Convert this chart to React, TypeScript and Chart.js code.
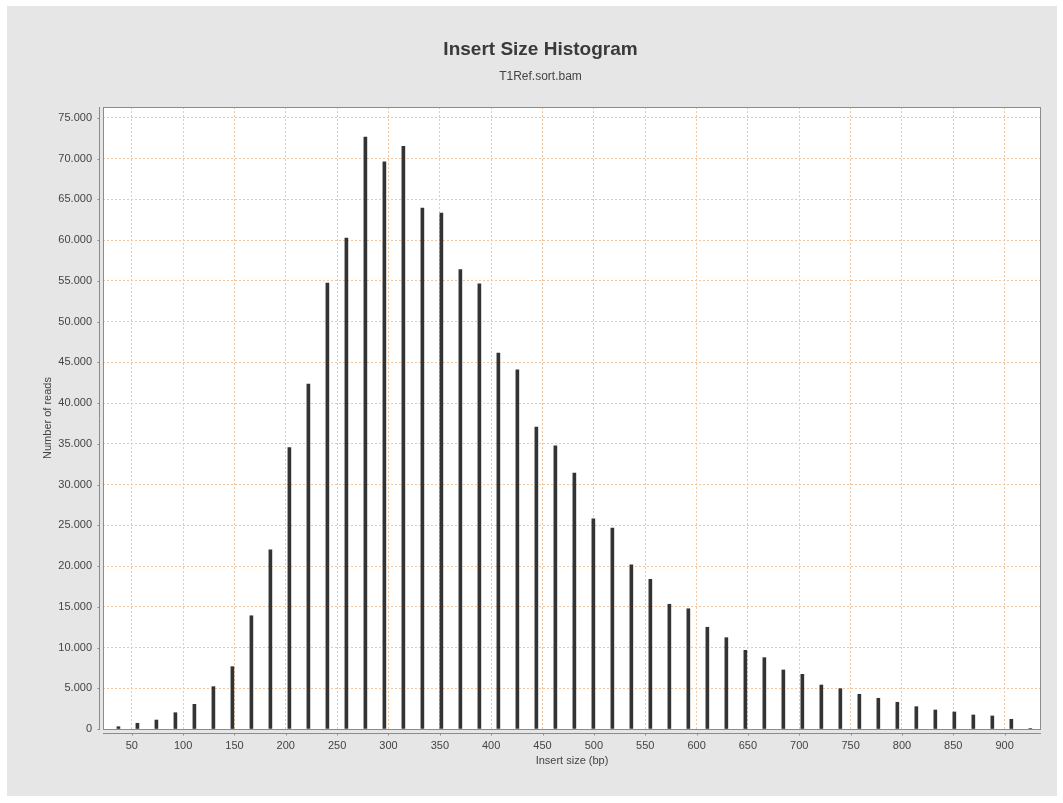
import React, { useEffect, useRef } from 'react';
import { Chart, registerables } from 'chart.js';

Chart.register(...registerables);

// Bin centres of the insert-size histogram (bp)
const BIN_CENTERS = [
  37, 55.5, 74, 92.5, 111, 129.5, 148, 166.5, 185, 203.5,
  222, 240.5, 259, 277.5, 296, 314.5, 333, 351.5, 370, 388.5,
  407, 425.5, 444, 462.5, 481, 499.5, 518, 536.5, 555, 573.5,
  592, 610.5, 629, 647.5, 666, 684.5, 703, 721.5, 740, 758.5,
  777, 795.5, 814, 832.5, 851, 869.5, 888, 906.5, 925,
];

// Number of reads per bin
const READ_COUNTS = [
  280, 700, 1100, 2000, 3030, 5200, 7650, 13900, 22000, 34550,
  42330, 54730, 60260, 72660, 69630, 71510, 63940, 63330, 56400, 54630,
  46140, 44090, 37050, 34750, 31400, 25790, 24650, 20140, 18380, 15310,
  14760, 12490, 11210, 9660, 8760, 7245, 6710, 5400, 4950, 4260,
  3770, 3280, 2740, 2330, 2090, 1720, 1600, 1190, 60,
];

const X_TICKS = [50, 100, 150, 200, 250, 300, 350, 400, 450, 500, 550, 600, 650, 700, 750, 800, 850, 900];
const Y_TICKS = [0, 5000, 10000, 15000, 20000, 25000, 30000, 35000, 40000, 45000, 50000, 55000, 60000, 65000, 70000, 75000];

const TITLE = 'Insert Size Histogram';
const SUBTITLE = 'T1Ref.sort.bam';
const X_LABEL = 'Insert size (bp)';
const Y_LABEL = 'Number of reads';

const FONT = '"Liberation Sans", Arial, Helvetica, sans-serif';
const TEXT = '#444444';
const GRID = '#f4c6a0';
const AXIS = '#8c8c8c';

const fmt = (v: number) => String(v).replace(/\B(?=(\d{3})+(?!\d))/g, '.');

const framePlugin = {
  id: 'frame',
  beforeDraw(chart: any) {
    const { ctx, chartArea: a, width, height } = chart;
    ctx.save();
    ctx.fillStyle = '#e6e6e6';
    ctx.fillRect(0, 0, width, height);
    ctx.fillStyle = '#ffffff';
    ctx.fillRect(a.left, a.top, a.right - a.left, a.bottom - a.top);
    ctx.restore();
  },
  afterDraw(chart: any) {
    const { ctx, chartArea: a, scales } = chart;
    ctx.save();
    ctx.strokeStyle = AXIS;
    ctx.lineWidth = 1;
    ctx.strokeRect(a.left + 0.5, a.top + 0.5, a.right - a.left - 1, a.bottom - a.top);
    ctx.beginPath();
    const ax = a.left - 4 + 0.5;
    ctx.moveTo(ax, a.top);
    ctx.lineTo(ax, a.bottom + 1);
    for (const v of Y_TICKS) {
      const y = Math.round(scales.y.getPixelForValue(v)) + 0.5;
      ctx.moveTo(ax - 2, y);
      ctx.lineTo(ax, y);
    }
    const ay = a.bottom + 4 + 0.5;
    ctx.moveTo(a.left, ay);
    ctx.lineTo(a.right, ay);
    for (const v of X_TICKS) {
      const x = Math.round(scales.x.getPixelForValue(v)) + 0.5;
      ctx.moveTo(x, ay);
      ctx.lineTo(x, ay + 2);
    }
    ctx.stroke();
    ctx.restore();
  },
};

export default function App() {
  const ref = useRef<HTMLCanvasElement | null>(null);

  useEffect(() => {
    if (!ref.current) return;
    const chart = new Chart(ref.current, {
      type: 'bar',
      data: {
        datasets: [
          {
            label: 'Reads',
            data: BIN_CENTERS.map((x, i) => ({ x, y: READ_COUNTS[i] })),
            backgroundColor: '#333333',
            borderWidth: 0,
            barThickness: 3,
          },
        ],
      },
      options: {
        animation: false,
        responsive: false,
        layout: { padding: { top: 20, left: 33, right: 16, bottom: 22 } },
        plugins: {
          legend: { display: false },
          tooltip: { enabled: false },
          title: {
            display: true,
            text: TITLE,
            color: '#3a3a3a',
            font: { family: FONT, size: 19, weight: 'bold', lineHeight: 1.2 },
            padding: { top: 12.6, bottom: 0 },
          },
          subtitle: {
            display: true,
            text: SUBTITLE,
            color: TEXT,
            font: { family: FONT, size: 12, lineHeight: 1.2 },
            padding: { top: 8.4, bottom: 22.8 },
          },
        },
        scales: {
          x: {
            type: 'linear',
            min: 22,
            max: 935.4,
            offset: false,
            afterBuildTicks: (s: any) => {
              s.ticks = X_TICKS.map((v) => ({ value: v }));
            },
            afterFit: (s: any) => {
              s.height = 45;
            },
            grid: { color: GRID, lineWidth: 1, drawTicks: false, offset: false },
            border: { display: false, dash: [2, 2] },
            ticks: {
              color: TEXT,
              font: { family: FONT, size: 11 },
              padding: 10,
              maxRotation: 0,
              autoSkip: false,
              callback: (v: any) => String(v),
            },
            title: {
              display: true,
              text: X_LABEL,
              color: TEXT,
              font: { family: FONT, size: 11 },
              padding: { top: 0, bottom: 6 },
            },
          },
          y: {
            type: 'linear',
            min: 0,
            max: 76350,
            afterBuildTicks: (s: any) => {
              s.ticks = Y_TICKS.map((v) => ({ value: v }));
            },
            afterFit: (s: any) => {
              s.width = 63;
            },
            grid: { color: GRID, lineWidth: 1, drawTicks: false },
            border: { display: false, dash: [2, 2] },
            ticks: {
              color: TEXT,
              font: { family: FONT, size: 11 },
              padding: 11,
              autoSkip: false,
              callback: (v: any) => fmt(Number(v)),
            },
            title: {
              display: true,
              text: Y_LABEL,
              color: TEXT,
              font: { family: FONT, size: 11 },
              padding: { top: 1, bottom: 0 },
            },
          },
        },
      },
      plugins: [framePlugin],
    } as any);
    return () => chart.destroy();
  }, []);

  return (
    <div style={{ position: 'absolute', left: 7, top: 6, width: 1050, height: 790 }}>
      <canvas ref={ref} width={1050} height={790} style={{ display: 'block' }} />
    </div>
  );
}
